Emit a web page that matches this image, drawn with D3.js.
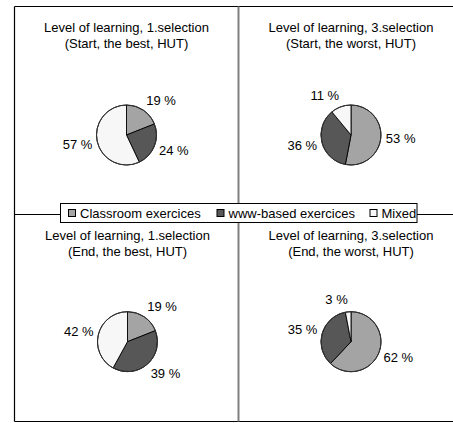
<!DOCTYPE html>
<html>
<head>
<meta charset="utf-8">
<script src="https://cdn.jsdelivr.net/npm/d3@7"></script>
<style>
  html, body { margin: 0; padding: 0; background: #fff; }
  svg { display: block; }
  text { font-family: "Liberation Sans", Arial, sans-serif; font-size: 13px; fill: #000; }
</style>
</head>
<body>
<div id="chart"></div>
<script>
// ---- data ----
const categories = ["Classroom exercices", "www-based exercices", "Mixed"];
const titlesLine1 = ["Level of learning, 1.selection", "Level of learning, 3.selection",
                     "Level of learning, 1.selection", "Level of learning, 3.selection"];
const titlesLine2 = ["(Start, the best, HUT)", "(Start, the worst, HUT)",
                     "(End, the best, HUT)", "(End, the worst, HUT)"];
const classroom = [19, 53, 19, 62];
const wwwBased  = [24, 36, 39, 35];
const mixed     = [57, 11, 42, 3];

const colors = ["#a4a4a4", "#575757", "#f7f7f7"];

const W = 453, H = 423;
const svg = d3.select("#chart").append("svg").attr("width", W).attr("height", H);

// frame
const fx0 = 14.5, fy0 = 6.5, fy1 = 421.5, midX = 238.5, midY = 214.5;
const frame = svg.append("g").attr("stroke", "#000").attr("stroke-width", 1.2).attr("fill", "none");
frame.append("line").attr("x1", fx0).attr("y1", fy0).attr("x2", W).attr("y2", fy0);
frame.append("line").attr("x1", fx0).attr("y1", fy0).attr("x2", fx0).attr("y2", fy1);
frame.append("line").attr("x1", fx0).attr("y1", fy1).attr("x2", W).attr("y2", fy1);
frame.append("line").attr("x1", fx0).attr("y1", midY).attr("x2", W).attr("y2", midY);
svg.append("line").attr("x1", midX).attr("y1", fy0).attr("x2", midX).attr("y2", fy1)
  .attr("stroke", "#808080").attr("stroke-width", 2);

// panel layout
const centersX = [126.5, 351, 127.5, 351];
const centersY = [135, 135, 341.7, 341.7];
const titleY = [31.5, 31.5, 239.5, 239.5];
const R = 30;

const pie = d3.pie().sort(null).value(d => d.v);
const arc = d3.arc().innerRadius(0).outerRadius(R);

for (let i = 0; i < 4; i++) {
  const data = [
    { c: 0, v: classroom[i] },
    { c: 1, v: wwwBased[i] },
    { c: 2, v: mixed[i] }
  ];
  const g = svg.append("g");
  g.append("text").attr("x", centersX[i]).attr("y", titleY[i]).attr("text-anchor", "middle").text(titlesLine1[i]);
  g.append("text").attr("x", centersX[i]).attr("y", titleY[i] + 16).attr("text-anchor", "middle").text(titlesLine2[i]);

  const pg = g.append("g").attr("transform", `translate(${centersX[i]},${centersY[i]})`);
  const arcs = pie(data);
  pg.selectAll("path").data(arcs).join("path")
    .attr("d", arc)
    .attr("fill", d => colors[d.data.c])
    .attr("stroke", "#000")
    .attr("stroke-width", 0.9);
  pg.append("circle").attr("r", R).attr("fill", "none").attr("stroke", "#333").attr("stroke-width", 1);

  pg.selectAll("text.lbl").data(arcs).join("text")
    .attr("class", "lbl")
    .each(function (d) {
      const a = (d.startAngle + d.endAngle) / 2;
      const s = Math.sin(a), c = Math.cos(a);
      const px = s * (R + 5), py = -c * (R + 5);
      const cy = py - c * 7;
      d3.select(this)
        .attr("x", px)
        .attr("y", cy + 4.5)
        .attr("text-anchor", s >= 0 ? "start" : "end")
        .text(d.data.v + " %");
    });
}

// legend
const lg = svg.append("g");
lg.append("rect").attr("x", 60.5).attr("y", 203.5).attr("width", 356.5).attr("height", 19)
  .attr("fill", "#fff").attr("stroke", "#000").attr("stroke-width", 1);
const legX = [68.5, 217, 370];
categories.forEach((name, k) => {
  lg.append("rect").attr("x", legX[k]).attr("y", 209.5).attr("width", 7).attr("height", 7)
    .attr("fill", colors[k]).attr("stroke", "#000").attr("stroke-width", 1);
  lg.append("text").attr("x", legX[k] + 11.5).attr("y", 217.5).text(name);
});
</script>
</body>
</html>
